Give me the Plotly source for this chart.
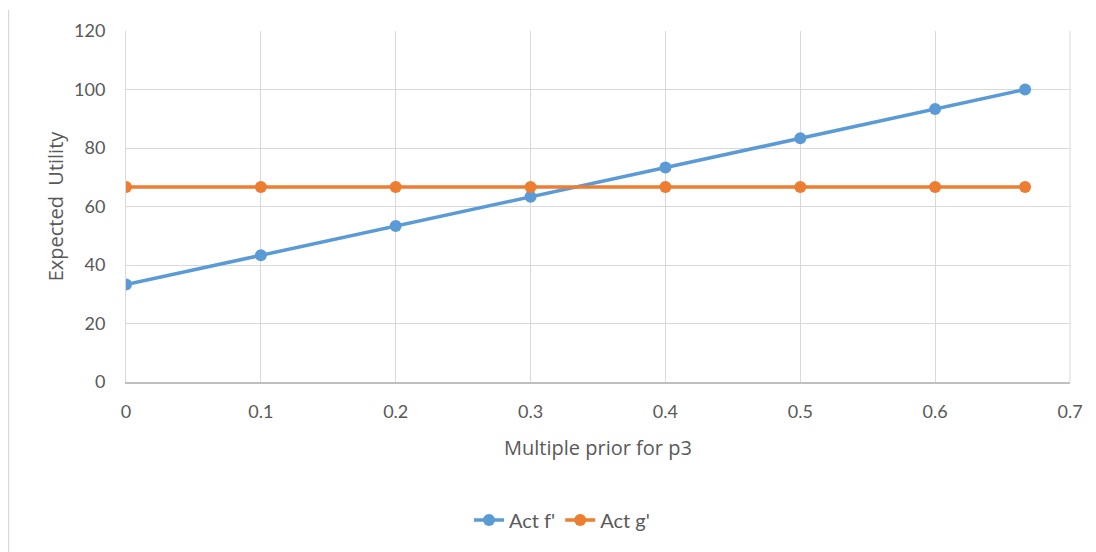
import plotly.graph_objects as go

x_vals = [0, 0.1, 0.2, 0.3, 0.4, 0.5, 0.6, 0.6667]
act_f = [33.3, 43.3, 53.3, 63.3, 73.3, 83.3, 93.3, 100.0]
act_g = [66.7, 66.7, 66.7, 66.7, 66.7, 66.7, 66.7, 66.7]
x_ticks = [0, 0.1, 0.2, 0.3, 0.4, 0.5, 0.6, 0.7]
y_ticks = [0, 20, 40, 60, 80, 100, 120]

FONT = "Lato"
TFONT = "Open Sans"
TXT = "#595959"
GRID = "#D9D9D9"

fig = go.Figure()
fig.add_trace(go.Scatter(x=x_vals, y=act_f, name="Act f'", mode="lines+markers",
                         line=dict(color="#5B9BD5", width=3.5),
                         marker=dict(color="#5B9BD5", size=12)))
fig.add_trace(go.Scatter(x=x_vals, y=act_g, name="Act g'", mode="lines+markers",
                         line=dict(color="#ED7D31", width=3.5),
                         marker=dict(color="#ED7D31", size=12)))

# page body has an 8px margin; figure placed at (8, 8)
OFF = 8
W, H = 1096 - OFF, 552 - OFF
L, T = 126 - OFF, 31 - OFF
R = W - (1070 - OFF)
B = H - (382 - OFF)
pw = W - L - R
ph = H - T - B

fig.update_layout(
    width=W, height=H,
    margin=dict(l=L, r=R, t=T, b=B),
    paper_bgcolor="white", plot_bgcolor="white",
    font=dict(family=FONT, color=TXT, size=18),
    showlegend=True,
    legend=dict(orientation="h", x=(562 - 126) / pw, xanchor="center",
                y=-(520 - 382) / ph, yanchor="middle",
                font=dict(size=20, color=TXT)),
    xaxis=dict(range=[0, 0.7], tickvals=x_ticks, ticktext=[str(v) for v in x_ticks],
               showgrid=True, gridcolor=GRID, gridwidth=1,
               showline=True, linecolor="#BFBFBF", linewidth=1.5,
               zeroline=False, ticks="", ticklabelstandoff=13,
               title=dict(text="Multiple prior for p3", standoff=20,
                          font=dict(size=20, color=TXT, family=TFONT))),
    yaxis=dict(range=[0, 120], tickvals=y_ticks,
               showgrid=True, gridcolor=GRID, gridwidth=1,
               showline=True, linecolor=GRID, linewidth=1,
               zeroline=False, ticks="", ticklabelstandoff=16,
               title=dict(text="Expected  Utility", standoff=5,
                          font=dict(size=20, color=TXT, family=TFONT))),
    shapes=[
        dict(type="line", xref="paper", yref="paper",
             x0=1, x1=1, y0=0, y1=1,
             line=dict(color=GRID, width=1)),
        dict(type="line", xref="paper", yref="paper",
             x0=(0 - L) / pw + 0.0005, x1=(0 - L) / pw + 0.0005,
             y0=-(H - T - ph) / ph, y1=(ph + T - 2) / ph,
             line=dict(color=GRID, width=1.5)),
    ],
)

fig.write_html("out.html")
